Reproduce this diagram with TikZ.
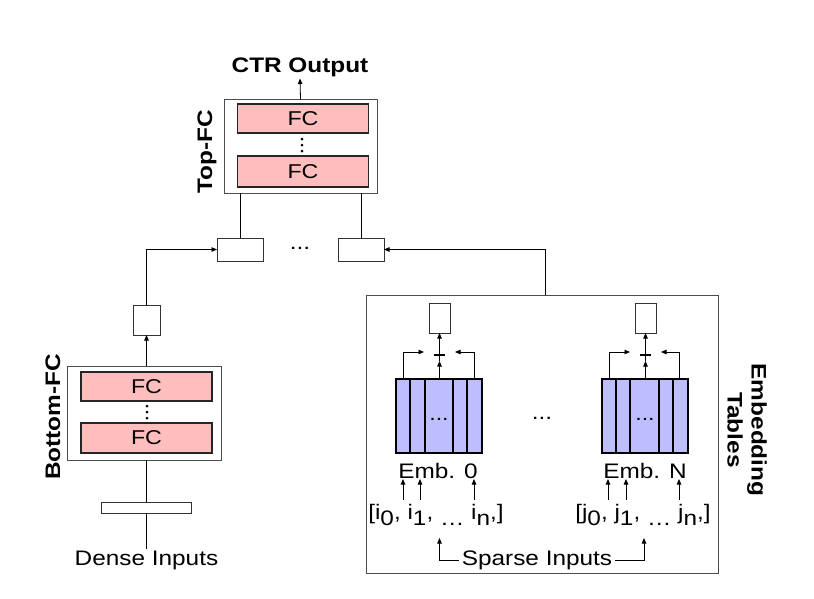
\documentclass[tikz,border=0pt]{standalone}
\usepackage{fontspec}
\setmainfont{Liberation Sans}[FakeStretch=1.16]
\usetikzlibrary{arrows.meta,calc}
\definecolor{fcpink}{RGB}{255,190,190}
\definecolor{emblav}{RGB}{190,190,255}
\newcommand{\lo}[1]{\raisebox{-6pt}{#1}}
\begin{document}
\begin{tikzpicture}[x=1pt,y=-1pt,
  every node/.style={inner sep=0pt, outer sep=0pt, font=\fontsize{21}{24}\selectfont},
  grp/.style={draw=black!70, line width=0.8pt},
  box/.style={draw=black!80, line width=0.8pt, fill=white},
  fcbar/.style={draw=black!85, line width=1.6pt, fill=fcpink, minimum width=131pt, minimum height=29pt, font=\fontsize{20}{22}\selectfont},
  embtab/.style={draw=black, line width=2pt, fill=emblav, minimum width=86pt, minimum height=74pt},
  arr/.style={-{Triangle[length=5.5pt,width=4.5pt]}, line width=0.8pt},
  ln/.style={line width=0.8pt},
  plusln/.style={line width=1.1pt},
  lbl/.style={font=\bfseries\fontsize{21}{24}\selectfont}]
\useasboundingbox (0,0) rectangle (814,598);

% ---------- Top FC ----------
\node[grp, minimum width=153pt, minimum height=94pt] (topfc) at (300.5,146) {};
\node[fcbar] (fc1) at (303,118.5) {FC};
\node[fcbar, minimum height=31pt] (fc2) at (303,171.5) {FC};
\foreach \y in {139,145,151} \fill (302,\y) circle (1.5pt);
\node[lbl, rotate=90] (toplbl) at (207,152) {Top-FC};
\node[lbl, inner sep=2pt] (ctr) at (300,67) {CTR Output};
\draw[arr] (topfc.north) -- (ctr.south);

% ---------- concat boxes ----------
\node[box, minimum width=46pt, minimum height=23pt] (cat1) at (240,249.5) {};
\node[box, minimum width=46pt, minimum height=23pt] (cat2) at (361,249.5) {};
\node (cdots) at (300,248) {...};
\draw[ln] (topfc.south -| cat1.north) -- (cat1.north);
\draw[ln] (topfc.south -| cat2.north) -- (cat2.north);

% ---------- Bottom FC ----------
\node[box, minimum width=27pt, minimum height=30pt] (botout) at (146.5,320) {};
\node[grp, minimum width=154pt, minimum height=94pt] (botfc) at (144,413) {};
\node[fcbar] (bfc1) at (146.5,386.5) {FC};
\node[fcbar, minimum height=30pt] (bfc2) at (146.5,438) {FC};
\foreach \y in {406,412,418} \fill (147,\y) circle (1.5pt);
\node[lbl, rotate=90] (botlbl) at (53,417) {Bottom-FC};
\node[box, minimum width=90pt, minimum height=11pt] (dense) at (146.5,507.5) {};
\node[inner sep=2pt] (densetxt) at (146.5,560) {Dense Inputs};
\draw[ln] (botfc.south -| dense.north) -- (dense.north);
\draw[ln] (dense.south) -- (densetxt.north);
\draw[arr] (botfc.north -| botout.south) -- (botout.south);
\draw[arr] (botout.north) |- (cat1.west);

% ---------- Embedding tables ----------
\node[grp, minimum width=352pt, minimum height=278pt] (embgrp) at (542,434) {};
\coordinate (embtop) at (545,295);
\draw[arr] (embtop) |- (cat2.east);
\node[lbl, rotate=-90, align=center] (emblbl) at (747,430) {Embedding\\Tables};

% table 0
\node[embtab] (e0) at (439,416) {};
\foreach \dx in {14,29,57,71}
  \draw[line width=1.4pt] ($(e0.north west)+(\dx,0)$) -- ($(e0.south west)+(\dx,0)$);
\node[font=\fontsize{20}{22}\selectfont] (e0dots) at (439,419) {...};
\node[box, minimum width=21pt, minimum height=30pt] (out0) at (439.5,318) {};
\coordinate (p0) at (439.5,355);
\draw[plusln] ($(p0)+(-5.5,0)$) -- ($(p0)+(5.5,0)$);
\draw[plusln] ($(p0)+(0,-6)$) -- ($(p0)+(0,6)$);
\draw[arr] (e0.north -| p0) -- ($(p0)+(0,6)$);
\draw[arr] ($(p0)+(0,-6)$) -- (out0.south);
\draw[arr] (403,379) |- (424,352);
\draw[arr] (474,379) |- (455,352);
\node[anchor=base] (lbl0) at (438,478) {Emb. 0};
\node[anchor=base] (idx0) at (436,519) {[i\lo{0}, i\lo{1}, \lo{…} i\lo{n},]};
\draw[arr] (403,500) -- (403,479);
\draw[arr] (420,500) -- (420,479);
\draw[arr] (474,500) -- (474,479);

% table N
\node[embtab] (eN) at (645,416) {};
\foreach \dx in {14,28,57,71}
  \draw[line width=1.4pt] ($(eN.north west)+(\dx,0)$) -- ($(eN.south west)+(\dx,0)$);
\node[font=\fontsize{20}{22}\selectfont] (eNdots) at (645,419) {...};
\node[box, minimum width=21pt, minimum height=30pt] (outN) at (645.5,318) {};
\coordinate (pN) at (645.5,355);
\draw[plusln] ($(pN)+(-5.5,0)$) -- ($(pN)+(5.5,0)$);
\draw[plusln] ($(pN)+(0,-6)$) -- ($(pN)+(0,6)$);
\draw[arr] (eN.north -| pN) -- ($(pN)+(0,6)$);
\draw[arr] ($(pN)+(0,-6)$) -- (outN.south);
\draw[arr] (609,379) |- (630,352);
\draw[arr] (679,379) |- (661,352);
\node[anchor=base] (lblN) at (645,478) {Emb. N};
\node[anchor=base] (idxN) at (643,519) {[j\lo{0}, j\lo{1}, \lo{…} j\lo{n},]};
\draw[arr] (608,500) -- (608,479);
\draw[arr] (626,500) -- (626,479);
\draw[arr] (679,500) -- (679,479);

\node (mdots) at (542,418) {...};

% sparse inputs
\node[inner sep=3pt] (sparse) at (537,560) {Sparse Inputs};
\draw[arr] (sparse.west) -| (439.5,538);
\draw[arr] (sparse.east) -| (644,538);
\end{tikzpicture}
\end{document}
